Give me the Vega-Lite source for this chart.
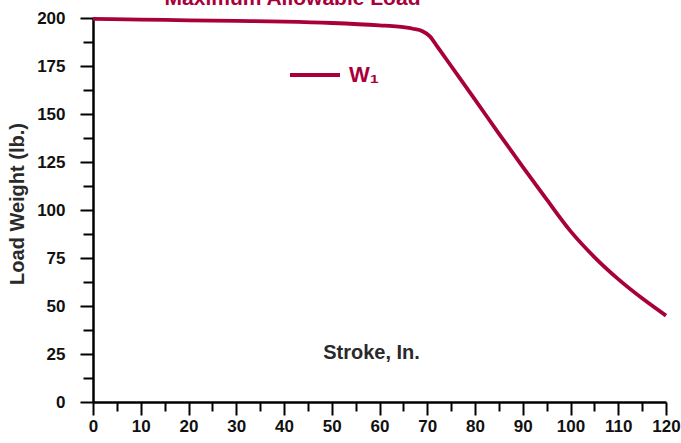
{
  "$schema": "https://vega.github.io/schema/vega-lite/v6.json",
  "width": 573,
  "height": 384,
  "autosize": {"type": "none"},
  "padding": {"left": 93, "top": 18, "right": 15, "bottom": 41},
  "background": "white",
  "config": {"view": {"stroke": null}, "font": "Liberation Sans"},
  "title": {
    "text": "Maximum Allowable Load",
    "frame": "group",
    "anchor": "middle",
    "dx": -87,
    "dy": 16.5,
    "offset": 0,
    "baseline": "alphabetic",
    "color": "#A8003A",
    "fontSize": 21,
    "fontWeight": "bold",
    "font": "Liberation Sans"
  },
  "data": {
    "values": [
      {"stroke": 0, "load": 199.5, "series": "W₁"},
      {"stroke": 10, "load": 199.2, "series": "W₁"},
      {"stroke": 20, "load": 198.8, "series": "W₁"},
      {"stroke": 30, "load": 198.5, "series": "W₁"},
      {"stroke": 40, "load": 198.1, "series": "W₁"},
      {"stroke": 50, "load": 197.4, "series": "W₁"},
      {"stroke": 60, "load": 196.2, "series": "W₁"},
      {"stroke": 64, "load": 195.5, "series": "W₁"},
      {"stroke": 67, "load": 194.4, "series": "W₁"},
      {"stroke": 69, "load": 193.1, "series": "W₁"},
      {"stroke": 70.5, "load": 190.6, "series": "W₁"},
      {"stroke": 72, "load": 185.5, "series": "W₁"},
      {"stroke": 75, "load": 175, "series": "W₁"},
      {"stroke": 80, "load": 157.5, "series": "W₁"},
      {"stroke": 85, "load": 139.8, "series": "W₁"},
      {"stroke": 90, "load": 122.5, "series": "W₁"},
      {"stroke": 95, "load": 105.5, "series": "W₁"},
      {"stroke": 100, "load": 89, "series": "W₁"},
      {"stroke": 105, "load": 75.5, "series": "W₁"},
      {"stroke": 110, "load": 64, "series": "W₁"},
      {"stroke": 115, "load": 54, "series": "W₁"},
      {"stroke": 120, "load": 45, "series": "W₁"}
    ]
  },
  "mark": {"type": "line", "interpolate": "monotone", "strokeWidth": 3.8, "clip": false},
  "encoding": {
    "x": {
      "field": "stroke",
      "type": "quantitative",
      "scale": {"domain": [0, 120], "nice": false, "zero": false},
      "axis": {
        "values": [0,5,10,15,20,25,30,35,40,45,50,55,60,65,70,75,80,85,90,95,100,105,110,115,120],
        "labelExpr": "datum.value % 10 === 0 ? datum.label : ''",
        "tickSize": {"condition": {"test": "datum.value % 10 === 0", "value": 13}, "value": 9},
        "tickWidth": 2,
        "tickColor": "black",
        "domainColor": "black",
        "domainWidth": 2.5,
        "grid": false,
        "labelFontSize": 17,
        "labelFontWeight": "bold",
        "labelColor": "#111",
        "labelPadding": 3,
        "labelOverlap": false,
        "labelFlush": false,
        "title": "Stroke, In.",
        "titleX": 278,
        "titleY": -50,
        "titleAlign": "center",
        "titleBaseline": "middle",
        "titleFontSize": 20,
        "titleFontWeight": "bold",
        "titleColor": "#2a2a2a"
      }
    },
    "y": {
      "field": "load",
      "type": "quantitative",
      "scale": {"domain": [0, 200], "nice": false},
      "axis": {
        "values": [0,12.5,25,37.5,50,62.5,75,87.5,100,112.5,125,137.5,150,162.5,175,187.5,200],
        "labelExpr": "datum.value % 25 === 0 ? datum.label : ''",
        "tickSize": {"condition": {"test": "datum.value % 25 === 0", "value": 13}, "value": 10},
        "tickWidth": 2,
        "tickColor": "black",
        "domainColor": "black",
        "domainWidth": 2.5,
        "grid": false,
        "labelFontSize": 17,
        "labelFontWeight": "bold",
        "labelColor": "#111",
        "labelPadding": 15,
        "labelOverlap": false,
        "labelFlush": false,
        "title": "Load Weight (lb.)",
        "titleX": -76,
        "titleY": 185.5,
        "titleAngle": -90,
        "titleAlign": "center",
        "titleBaseline": "middle",
        "titleFontSize": 20,
        "titleFontWeight": "bold",
        "titleColor": "#2a2a2a"
      }
    },
    "color": {
      "field": "series",
      "type": "nominal",
      "scale": {"range": ["#A8003A"]},
      "legend": {
        "orient": "none",
        "legendX": 195,
        "legendY": 30,
        "title": null,
        "padding": 0,
        "symbolType": "stroke",
        "symbolSize": 2500,
        "symbolStrokeWidth": 4,
        "labelFontSize": 22,
        "labelFontWeight": "bold",
        "labelColor": "#A8003A",
        "labelFont": "Liberation Sans",
        "labelOffset": 7
      }
    }
  }
}
